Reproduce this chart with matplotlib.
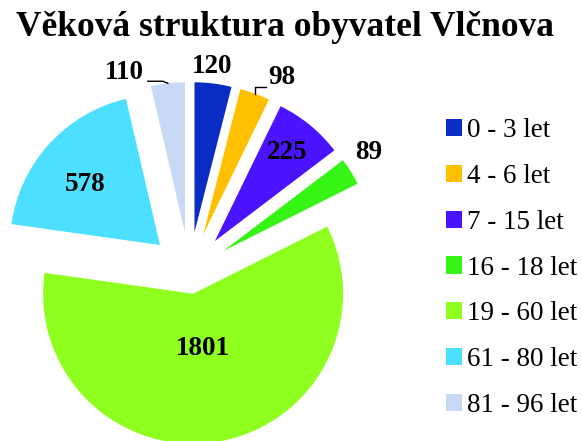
import numpy as np
import matplotlib.pyplot as plt

plt.rcParams['font.family'] = ['Liberation Serif', 'DejaVu Serif']

# Data
groups = ['0 - 3 let', '4 - 6 let', '7 - 15 let', '16 - 18 let',
          '19 - 60 let', '61 - 80 let', '81 - 96 let']
counts = [120, 98, 225, 89, 1801, 578, 110]
colors = ['#0A2EC4', '#FFC000', '#4B14FF', '#36F514',
          '#8EFF1E', '#4DDFFF', '#C8D9F7']
title = 'Věková struktura obyvatel Vlčnova'

# Geometry (pixel units)
W, H = 582, 441
center = (189.5, H - 272)
radius = 150
explode = [40, 40, 40, 40, 22, 40, 40]
lab_r = [1.11, 1.17, 0.76, 1.17, 0.37, 0.64, 1.14]   # label distance / radius
lab_da = [1, -6.5, 0, 2, 1, 3.5, 14.3]               # label angle shift (deg)
leaders = {1: [(0, 7), (11, 0)], 6: [(-5, 2), (-15, 0)]}

fig = plt.figure(figsize=(W / 100, H / 100), dpi=100)
ax = fig.add_axes([0, 0, 1, 1])

wedges, _ = ax.pie(counts, colors=colors, explode=explode, radius=radius,
                   center=center, startangle=90, counterclock=False)
ax.set_xlim(0, W)
ax.set_ylim(0, H)
ax.axis('off')

# Data labels
for i, w in enumerate(wedges):
    tm = np.deg2rad((w.theta1 + w.theta2) / 2)
    ta = tm + np.deg2rad(lab_da[i])
    cx, cy = w.center
    r = w.r * lab_r[i]
    ax.text(cx + r * np.cos(ta), cy + r * np.sin(ta), str(counts[i]),
            ha='center', va='center', fontsize=19.5, fontweight='bold')
    if i in leaders:
        px = [cx + w.r * np.cos(tm)]
        py = [cy + w.r * np.sin(tm)]
        for dx, dy in leaders[i]:
            px.append(px[-1] + dx)
            py.append(py[-1] + dy)
        ax.plot(px, py, color='black', lw=1)

fig.text(285 / W, 1 - 28 / H, title, ha='center', va='center',
         fontsize=25.5, fontweight='bold')

fig.legend(wedges, groups, loc='upper left', bbox_to_anchor=(446 / W, 1 - 118 / H),
           frameon=False, fontsize=19.5, handlelength=0.59, handleheight=0.59,
           handletextpad=0.18, labelspacing=0.77, borderpad=0, borderaxespad=0)

fig.savefig('out.png', dpi=100)
